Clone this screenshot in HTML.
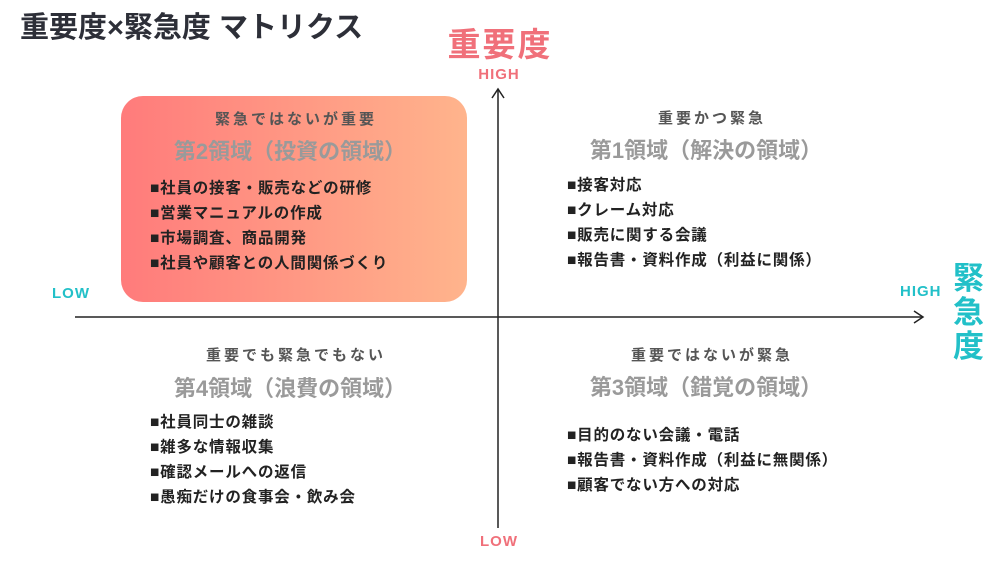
<!DOCTYPE html>
<html><head><meta charset="utf-8"><style>
body{margin:0;width:1000px;height:563px;background:#fff;position:relative;overflow:hidden;font-family:"Liberation Sans","Noto Sans CJK JP",sans-serif;}
.a{position:absolute;white-space:nowrap;}
.c{transform:translateX(-50%);text-align:center;}
.sub{font-size:15px;color:#555;font-weight:bold;letter-spacing:3px;}
.tt{font-size:22px;color:#9a9a9a;font-weight:bold;}
.it{font-size:15.5px;color:#222;font-weight:bold;line-height:25px;letter-spacing:0.8px;}
</style></head><body>
<div class="a" style="left:20px;top:4px;font-size:29px;font-weight:bold;color:#2d2f38;">重要度×緊急度 マトリクス</div>
<div class="a c" style="left:500px;top:18px;font-size:33px;font-weight:bold;color:#f0707a;letter-spacing:2px;">重要度</div>
<div class="a c" style="left:499px;top:66px;font-size:15px;font-weight:bold;color:#f0707a;letter-spacing:1px;">HIGH</div>
<div class="a c" style="left:499px;top:533px;font-size:15px;font-weight:bold;color:#f0707a;letter-spacing:1px;">LOW</div>
<div class="a" style="left:52px;top:285px;font-size:15px;font-weight:bold;color:#22c0c8;letter-spacing:1px;">LOW</div>
<div class="a" style="left:900px;top:283px;font-size:15px;font-weight:bold;color:#22c0c8;letter-spacing:1px;">HIGH</div>
<div class="a" style="left:953px;top:262px;font-size:31px;font-weight:bold;color:#22c0c8;line-height:34px;width:34px;">緊<br>急<br>度</div>
<div class="a" style="left:121px;top:96px;width:346px;height:206px;border-radius:22px;background:linear-gradient(90deg,#ff7b7b,#ffb48c);"></div>
<svg class="a" style="left:0;top:0" width="1000" height="563">
<line x1="75" y1="317" x2="922" y2="317" stroke="#222" stroke-width="1.5"/>
<path d="M914 311 L923 317 L914 323" fill="none" stroke="#222" stroke-width="1.5"/>
<line x1="498" y1="90" x2="498" y2="528" stroke="#222" stroke-width="1.5"/>
<path d="M492 98 L498 89 L504 98" fill="none" stroke="#222" stroke-width="1.5"/>
</svg>
<div class="a c sub" style="left:296px;top:108px;">緊急ではないが重要</div>
<div class="a c tt" style="left:290px;top:134px;">第2領域（投資の領域）</div>
<div class="a it" style="left:150px;top:176px;">■社員の接客・販売などの研修<br>■営業マニュアルの作成<br>■市場調査、商品開発<br>■社員や顧客との人間関係づくり</div>
<div class="a c sub" style="left:712px;top:107px;">重要かつ緊急</div>
<div class="a c tt" style="left:706px;top:133px;">第1領域（解決の領域）</div>
<div class="a it" style="left:567px;top:173px;">■接客対応<br>■クレーム対応<br>■販売に関する会議<br>■報告書・資料作成（利益に関係）</div>
<div class="a c sub" style="left:296px;top:344px;">重要でも緊急でもない</div>
<div class="a c tt" style="left:290px;top:371px;">第4領域（浪費の領域）</div>
<div class="a it" style="left:150px;top:410px;">■社員同士の雑談<br>■雑多な情報収集<br>■確認メールへの返信<br>■愚痴だけの食事会・飲み会</div>
<div class="a c sub" style="left:712px;top:344px;">重要ではないが緊急</div>
<div class="a c tt" style="left:706px;top:370px;">第3領域（錯覚の領域）</div>
<div class="a it" style="left:567px;top:423px;">■目的のない会議・電話<br>■報告書・資料作成（利益に無関係）<br>■顧客でない方への対応</div>
</body></html>
